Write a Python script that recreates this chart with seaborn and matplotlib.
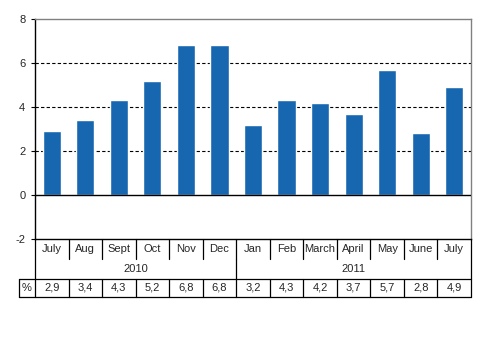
import matplotlib
matplotlib.use("Agg")
import matplotlib.pyplot as plt
import seaborn as sns
import pandas as pd

months = ["July", "Aug", "Sept", "Oct", "Nov", "Dec",
          "Jan", "Feb", "March", "April", "May", "June", "July"]
years = ["2010", "2011"]
year_spans = [(0, 5), (6, 12)]
values = [2.9, 3.4, 4.3, 5.2, 6.8, 6.8, 3.2, 4.3, 4.2, 3.7, 5.7, 2.8, 4.9]
value_labels = ["2,9", "3,4", "4,3", "5,2", "6,8", "6,8",
                "3,2", "4,3", "4,2", "3,7", "5,7", "2,8", "4,9"]
yticks = [-2, 0, 2, 4, 6, 8]

sns.set_style("white")
plt.rcParams["font.family"] = ["Liberation Sans", "DejaVu Sans"]
FS = 8

W, H = 493, 348
fig = plt.figure(figsize=(W / 100, H / 100), dpi=100)
left, right, top, bottom = 35, 471, 19, 239
ax = fig.add_axes([left / W, 1 - bottom / H, (right - left) / W, (bottom - top) / H])

df = pd.DataFrame({"pos": range(len(values)), "value": values})
sns.barplot(data=df, x="pos", y="value", color="#1767B0", width=0.54,
            saturation=1, ax=ax, zorder=3)

ax.set_xlim(-0.5, len(values) - 0.5)
ax.set_ylim(-2, 8)
ax.set_xlabel("")
ax.set_ylabel("")
ax.set_xticks([])
ax.set_yticks(yticks)
ax.set_yticklabels([str(t) for t in yticks], fontsize=FS)
ax.tick_params(axis="y", which="both", left=True, length=3, width=0.8,
               color="black", pad=4)

for g in [2, 4, 6]:
    ax.axhline(g, color="black", lw=0.8, ls=(0, (3, 2)), zorder=1)
ax.axhline(0, color="black", lw=1.0, zorder=4)

for s in ["top", "right"]:
    ax.spines[s].set_color("#808080")
    ax.spines[s].set_linewidth(1.0)
ax.spines["left"].set_color("black")
ax.spines["left"].set_linewidth(1.0)
ax.spines["bottom"].set_color("black")
ax.spines["bottom"].set_linewidth(1.0)

# table below the axis, in data units (22 px per unit)
px = 2 / 44
r0 = -2
r1 = r0 - 20 * px
r2 = r0 - 40 * px
r3 = r0 - 58 * px
x_left = -0.5
x_right = len(values) - 0.5
x_pct = -0.5 - 16 / ((right - left) / len(values))

line_kw = dict(color="black", lw=0.9, clip_on=False, zorder=5)

# month row
for i, m in enumerate(months):
    ax.text(i, (r0 + r1) / 2, m, ha="center", va="center", fontsize=FS,
            clip_on=False)
for i in range(1, len(months)):
    ax.plot([i - 0.5, i - 0.5], [r0, r1], **line_kw)

# year row
for (a, b), y in zip(year_spans, years):
    ax.text((a + b) / 2, (r1 + r2) / 2, y, ha="center", va="center",
            fontsize=FS, clip_on=False)
ax.plot([5.5, 5.5], [r1, r2], **line_kw)

# outer verticals
ax.plot([x_left, x_left], [r0, r3], **line_kw)
ax.plot([x_right, x_right], [r0, r3], **line_kw)

# value row
ax.plot([x_pct, x_right], [r2, r2], **line_kw)
ax.plot([x_pct, x_right], [r3, r3], **line_kw)
ax.plot([x_pct, x_pct], [r2, r3], **line_kw)
ax.text((x_pct + x_left) / 2, (r2 + r3) / 2, "%", ha="center", va="center",
        fontsize=FS, clip_on=False)
for i, lab in enumerate(value_labels):
    ax.text(i, (r2 + r3) / 2, lab, ha="center", va="center", fontsize=FS,
            clip_on=False)
for i in range(1, len(values)):
    ax.plot([i - 0.5, i - 0.5], [r2, r3], **line_kw)

fig.savefig("out.png", dpi=100)
